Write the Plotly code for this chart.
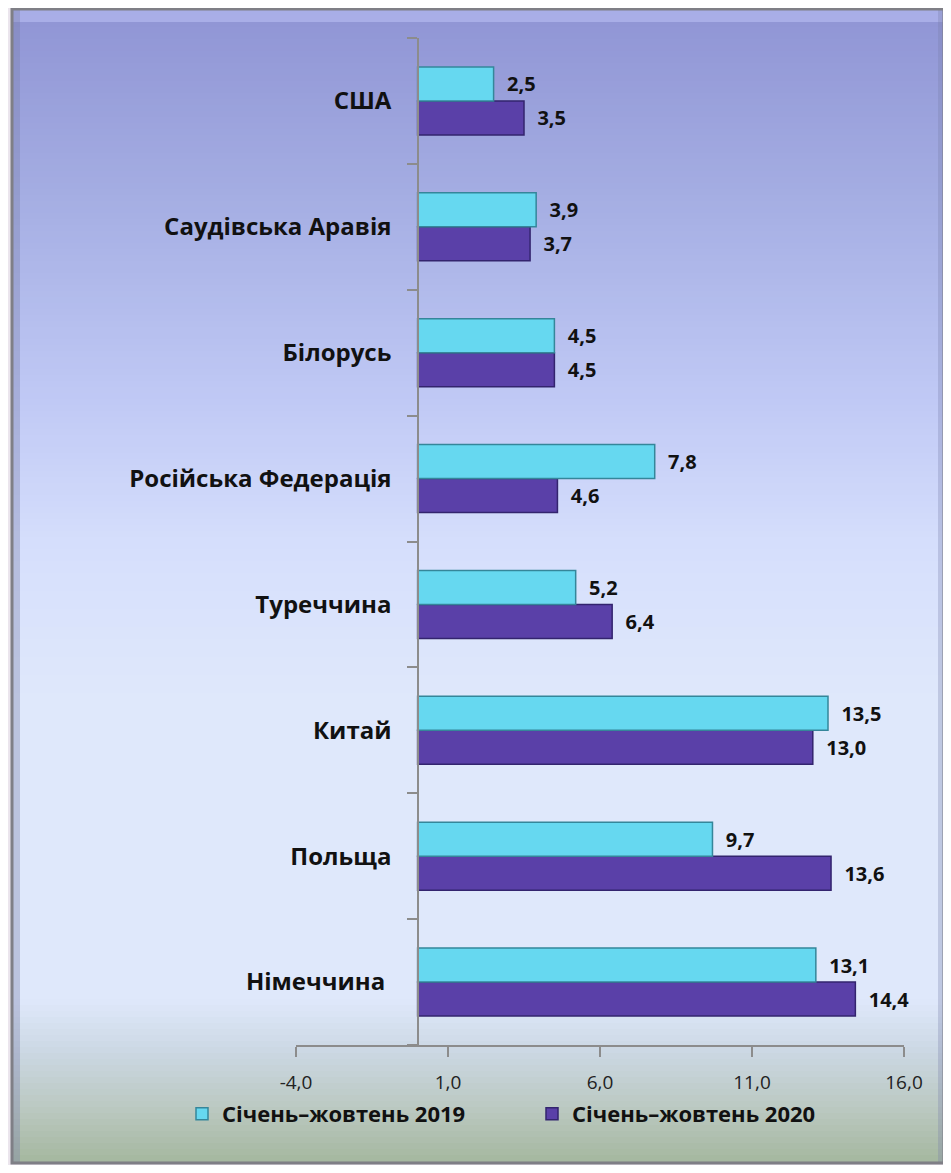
import plotly.graph_objects as go

categories = ["Німеччина ", "Польща", "Китай", "Туреччина", "Російська Федерація",
              "Білорусь", "Саудівська Аравія", "США"]
values_2019 = [13.1, 9.7, 13.5, 5.2, 7.8, 4.5, 3.9, 2.5]
values_2020 = [14.4, 13.6, 13.0, 6.4, 4.6, 4.5, 3.7, 3.5]
series_names = ["Січень–жовтень 2019", "Січень–жовтень 2020"]
x_ticks = [-4, 1, 6, 11, 16]
x_tick_labels = ["-4,0", "1,0", "6,0", "11,0", "16,0"]

OFF = 8  # browser body margin
W, H = 951 - OFF, 1173 - 2 * OFF
# plot area in page pixels
PL, PR, PT, PB = 296, 904, 38, 1045
L, R, T, B = PL - OFF, PR - OFF, PT - OFF, PB - OFF

def px(xp):  # page px -> paper x
    return (xp - PL) / (PR - PL)

def py(yp):  # page px -> paper y
    return (PB - yp) / (PB - PT)

def fmt(v):
    return "\u00a0\u00a0" + f"{v:.1f}".replace(".", ",")

label_font = dict(family="Open Sans", size=20, color="#111111", weight="bold")

fig = go.Figure()
fig.add_trace(go.Bar(
    y=categories, x=values_2020, orientation="h", name=series_names[1],
    marker=dict(color="#5a40a8", line=dict(color="#33246e", width=1.5)),
    text=[fmt(v) for v in values_2020],
    textposition="outside", cliponaxis=False, textfont=label_font,
))
fig.add_trace(go.Bar(
    y=categories, x=values_2019, orientation="h", name=series_names[0],
    marker=dict(color="#66d8f0", line=dict(color="#35869a", width=1.5)),
    text=[fmt(v) for v in values_2019],
    textposition="outside", cliponaxis=False, textfont=label_font,
))

# gradient background of the frame via thin strips
stops = [(8, (0x8f, 0x94, 0xd4)), (200, (0xa5, 0xae, 0xe3)), (400, (0xc0, 0xc9, 0xf5)),
         (550, (0xd6, 0xdf, 0xfc)), (700, (0xdf, 0xe8, 0xfb)), (1000, (0xdf, 0xe8, 0xfb)),
         (1050, (0xcc, 0xd8, 0xe4)), (1110, (0xba, 0xc8, 0xc0)), (1163, (0xa4, 0xb7, 0x9e))]

def color_at(y):
    for (y0, c0), (y1, c1) in zip(stops[:-1], stops[1:]):
        if y0 <= y <= y1:
            t = (y - y0) / (y1 - y0)
            return "rgb(%d,%d,%d)" % tuple(round(a + (b - a) * t) for a, b in zip(c0, c1))
    return "rgb(%d,%d,%d)" % stops[-1][1]

shapes = []
fx0, fx1, fy0, fy1 = 12, 944, 9, 1163
step = 6
y = fy0
while y < fy1:
    y2 = min(y + step, fy1)
    shapes.append(dict(type="rect", xref="paper", yref="paper", layer="below",
                       x0=px(fx0), x1=px(fx1), y0=py(y2 + 0.5), y1=py(y),
                       fillcolor=color_at((y + y2) / 2), line=dict(width=0)))
    y = y2
# bevel highlights
shapes.append(dict(type="rect", xref="paper", yref="paper", layer="below",
                   x0=px(fx0), x1=px(fx1), y0=py(22), y1=py(fy0),
                   fillcolor="rgba(190,195,245,0.55)", line=dict(width=0)))
shapes.append(dict(type="rect", xref="paper", yref="paper", layer="below",
                   x0=px(fx0), x1=px(fx0 + 8), y0=py(fy1), y1=py(fy0),
                   fillcolor="rgba(120,125,170,0.35)", line=dict(width=0)))
shapes.append(dict(type="rect", xref="paper", yref="paper", layer="below",
                   x0=px(fx1 - 6), x1=px(fx1), y0=py(fy1), y1=py(fy0),
                   fillcolor="rgba(120,125,170,0.30)", line=dict(width=0)))
# frame border
shapes.append(dict(type="rect", xref="paper", yref="paper", layer="below",
                   x0=px(fx0), x1=px(fx1), y0=py(fy1), y1=py(fy0),
                   fillcolor="rgba(0,0,0,0)", line=dict(color="#7f7f86", width=3)))

fig.update_layout(
    width=W, height=H, autosize=False,
    margin=dict(l=L, r=W - R, t=T, b=H - B),
    paper_bgcolor="#ebe5ed", plot_bgcolor="rgba(0,0,0,0)",
    barmode="group", bargap=0.46, bargroupgap=0.0,
    shapes=shapes,
    showlegend=True,
    legend=dict(orientation="h", x=px(182), xanchor="left",
                y=py(1114), yanchor="middle",
                traceorder="reversed", entrywidth=305, entrywidthmode="pixels",
                font=dict(family="Open Sans", size=22, color="#111111", weight="bold"),
                bgcolor="rgba(0,0,0,0)", itemwidth=30),
    xaxis=dict(range=[-4, 16], tickvals=x_ticks, ticktext=x_tick_labels,
               showgrid=False, zeroline=False, showline=True, linecolor="#8c8c8c",
               linewidth=1.5, ticks="outside", ticklen=10, tickcolor="#8c8c8c",
               tickwidth=1.5, ticklabelstandoff=9,
               tickfont=dict(family="Open Sans", size=19, color="#222222")),
    yaxis=dict(categoryorder="array", categoryarray=categories,
               anchor="free", position=px(418),
               showgrid=False, zeroline=False, showline=True, linecolor="#8c8c8c",
               linewidth=1.5, ticks="outside", ticklen=10, tickcolor="#8c8c8c",
               tickwidth=1.5, tickson="boundaries", ticklabelstandoff=21,
               tickfont=dict(family="Open Sans", size=24, color="#111111", weight="bold")),
)

fig.write_html("out.html")
